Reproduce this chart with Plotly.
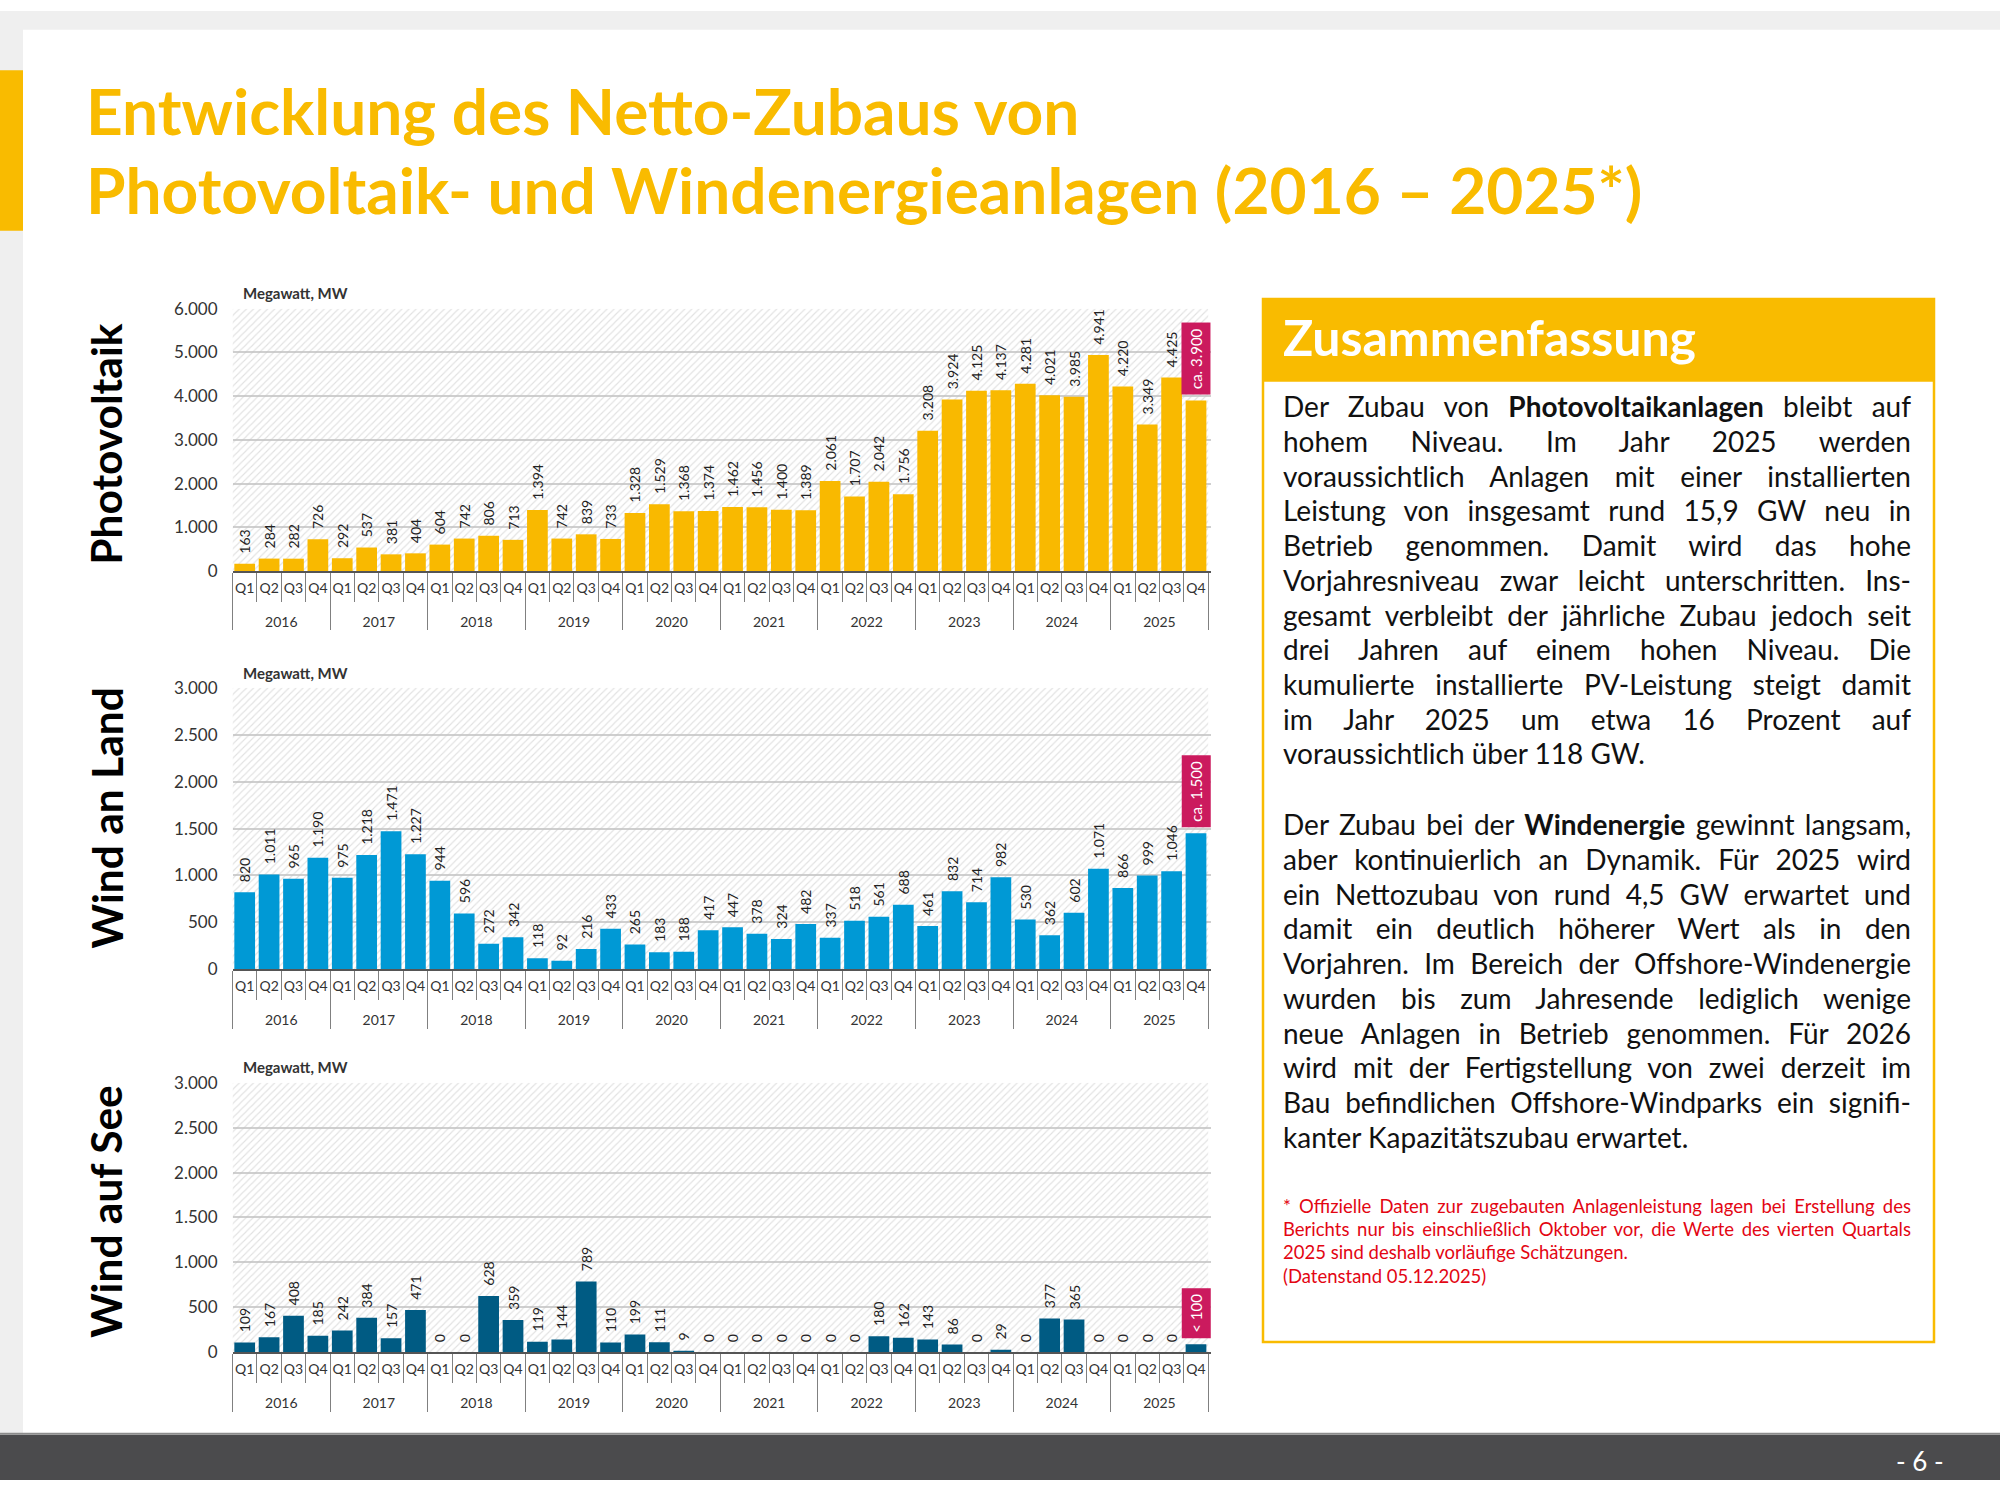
import json
import plotly.graph_objects as go

# ---------------- data ----------------
YEARS = ["2016", "2017", "2018", "2019", "2020", "2021", "2022", "2023", "2024", "2025"]
QUARTERS = ["Q1", "Q2", "Q3", "Q4"]

PV = [163, 284, 282, 726,
      292, 537, 381, 404,
      604, 742, 806, 713,
      1394, 742, 839, 733,
      1328, 1529, 1368, 1374,
      1462, 1456, 1400, 1389,
      2061, 1707, 2042, 1756,
      3208, 3924, 4125, 4137,
      4281, 4021, 3985, 4941,
      4220, 3349, 4425, 3900]

WIND_LAND = [820, 1011, 965, 1190,
             975, 1218, 1471, 1227,
             944, 596, 272, 342,
             118, 92, 216, 433,
             265, 183, 188, 417,
             447, 378, 324, 482,
             337, 518, 561, 688,
             461, 832, 714, 982,
             530, 362, 602, 1071,
             866, 999, 1046, 1450]

WIND_SEA = [109, 167, 408, 185,
            242, 384, 157, 471,
            0, 0, 628, 359,
            119, 144, 789, 110,
            199, 111, 9, 0,
            0, 0, 0, 0,
            0, 0, 180, 162,
            143, 86, 0, 29,
            0, 377, 365, 0,
            0, 0, 0, 90]

ESTIMATE_TEXT = ["ca. 3.900", "ca. 1.500", "&lt; 100"]
PANEL_NAMES = ["Photovoltaik", "Wind an Land", "Wind auf See"]
UNIT_LABEL = "Megawatt, MW"
Y_MAX = [6000, 3000, 3000]
Y_DTICK = [1000, 500, 500]

TITLE_LINES = ["Entwicklung des Netto-Zubaus von",
               "Photovoltaik- und Windenergieanlagen (2016 – 2025*)"]
BOX_TITLE = "Zusammenfassung"
PARA1 = ["Der Zubau von <b>Photovoltaikanlagen</b> bleibt auf",
         "hohem Niveau. Im Jahr 2025 werden",
         "voraussichtlich Anlagen mit einer installierten",
         "Leistung von insgesamt rund 15,9 GW neu in",
         "Betrieb genommen. Damit wird das hohe",
         "Vorjahresniveau zwar leicht unterschritten. Ins-",
         "gesamt verbleibt der jährliche Zubau jedoch seit",
         "drei Jahren auf einem hohen Niveau. Die",
         "kumulierte installierte PV-Leistung steigt damit",
         "im Jahr 2025 um etwa 16 Prozent auf",
         "voraussichtlich über 118 GW."]
PARA2 = ["Der Zubau bei der <b>Windenergie</b> gewinnt langsam,",
         "aber kontinuierlich an Dynamik. Für 2025 wird",
         "ein Nettozubau von rund 4,5 GW erwartet und",
         "damit ein deutlich höherer Wert als in den",
         "Vorjahren. Im Bereich der Offshore-Windenergie",
         "wurden bis zum Jahresende lediglich wenige",
         "neue Anlagen in Betrieb genommen. Für 2026",
         "wird mit der Fertigstellung von zwei derzeit im",
         "Bau befindlichen Offshore-Windparks ein signifi-",
         "kanter Kapazitätszubau erwartet."]
FOOTNOTE = ["* Offizielle Daten zur zugebauten Anlagenleistung lagen bei Erstellung des",
            "Berichts nur bis einschließlich Oktober vor, die Werte des vierten Quartals",
            "2025 sind deshalb vorläufige Schätzungen.",
            "(Datenstand 05.12.2025)"]
PAGE_NO = "- 6 -"

# ---------------- styling / layout helpers ----------------
W, H = 2000, 1490
FONT = "Lato, 'Open Sans', sans-serif"
YELLOW = "#F9BB00"
MAGENTA = "#CB1A5E"
GRID = "#cfcfcf"
TXT = "#222222"
TEXT_LEFT, TEXT_WIDTH = 1283, 628


def fx(px):
    return px / W


def fy(py):
    return 1 - py / H


def fmt(v):
    return f"{v:,}".replace(",", ".")


year_labels = ["<br>" + y for y in YEARS]
xcat = [[y for y in year_labels for _ in QUARTERS], [q for _ in YEARS for q in QUARTERS]]

panels = [
    dict(values=PV, color="#F9B900", top=302, bottom=568, title_y=440),
    dict(values=WIND_LAND, color="#0099D5", top=686.5, bottom=972, title_y=819),
    dict(values=WIND_SEA, color="#005B83", top=1087, bottom=1360.5, title_y=1218),
]
X_LEFT, X_RIGHT = 232.5, 1211

fig = go.Figure()
annotations = []
shapes = []
layout_axes = {}
justify_ids = []

for i, p in enumerate(panels):
    n = "" if i == 0 else str(i + 1)
    xa, ya = "x" + n, "y" + n
    vals = p["values"]
    # hatched background
    fig.add_trace(go.Bar(
        x=xcat, y=[Y_MAX[i]] * len(vals), width=1.0, xaxis=xa, yaxis=ya,
        marker=dict(color="rgba(0,0,0,0)", line=dict(width=0),
                    pattern=dict(shape="/", fgcolor="#c4c4c4", size=5, solidity=0.22,
                                 fillmode="overlay")),
        hoverinfo="skip", showlegend=False))
    texts = ["\u00a0\u00a0" + fmt(v) for v in vals[:-1]] + [""]
    fig.add_trace(go.Bar(
        x=xcat, y=vals, width=0.85, xaxis=xa, yaxis=ya,
        marker=dict(color=p["color"], line=dict(width=0)),
        text=texts, textposition="outside", textangle=-90,
        textfont=dict(family=FONT, size=14, color=TXT),
        constraintext="none", cliponaxis=False, showlegend=False))

    layout_axes["xaxis" + n] = dict(
        type="multicategory", domain=[fx(X_LEFT), fx(X_RIGHT)], anchor=ya,
        showline=True, linecolor="#555555", linewidth=1.5,
        ticks="outside", tickson="boundaries", ticklen=29, tickcolor="#808080", tickwidth=1,
        showdividers=True, dividercolor="#808080", dividerwidth=1,
        tickangle=0, ticklabelstandoff=3,
        tickfont=dict(family=FONT, size=14, color="#333333"),
        showgrid=False, fixedrange=True)
    layout_axes["yaxis" + n] = dict(
        domain=[fy(p["bottom"]), fy(p["top"])], anchor=xa,
        range=[0, Y_MAX[i]], dtick=Y_DTICK[i], tickformat=",d",
        showgrid=True, gridcolor=GRID, gridwidth=1.5, zeroline=False,
        showline=False, ticks="", ticklabelstandoff=14,
        tickfont=dict(family=FONT, size=17, color="#333333"))

    annotations.append(dict(
        text=UNIT_LABEL, x=fx(241), y=fy(p["top"] - 15.5), xref="paper", yref="paper",
        xanchor="left", yanchor="middle", showarrow=False,
        font=dict(family=FONT, size=15, color="#333333", weight="bold")))
    annotations.append(dict(
        text="<b>" + PANEL_NAMES[i] + "</b>", x=fx(106), y=fy(p["title_y"]),
        xref="paper", yref="paper", xanchor="center", yanchor="middle",
        textangle=-90, showarrow=False,
        font=dict(family=FONT, size=42.5, color="#000000")))
    annotations.append(dict(
        text=ESTIMATE_TEXT[i], x=len(vals) - 1, y=vals[-1], xref=xa, yref=ya,
        xanchor="center", yanchor="bottom", yshift=5, textangle=-90, showarrow=False,
        bgcolor=MAGENTA, borderpad=5,
        font=dict(family=FONT, size=15, color="white")))


def rect(x0, y0, x1, y1, fill, line=None, lw=0):
    shapes.append(dict(type="rect", xref="paper", yref="paper",
                       x0=fx(x0), x1=fx(x1), y0=fy(y1), y1=fy(y0),
                       fillcolor=fill, line=dict(color=line or fill, width=lw),
                       layer="below"))


rect(0, 0, W, 19, "#EFEFEF")
rect(0, 0, 23, 1444, "#EFEFEF")
rect(0, 60, 23, 223, YELLOW)
rect(0, 1444, W, H, "#4B4B4D")
rect(0, 1442, W, 1444, "#8C8C8C")
rect(1263, 292, 1934, 1350, "white", YELLOW, 2.5)
rect(1263, 292, 1934, 376, YELLOW)

for k, line in enumerate(TITLE_LINES):
    annotations.append(dict(
        text="<b>" + line + "</b>", x=fx(84), y=fy(101 + k * 80), xref="paper", yref="paper",
        xanchor="left", yanchor="middle", showarrow=False,
        font=dict(family=FONT, size=64, color=YELLOW)))

annotations.append(dict(
    text="<b>" + BOX_TITLE + "</b>", x=fx(1281), y=fy(331), xref="paper", yref="paper",
    xanchor="left", yanchor="middle", showarrow=False,
    font=dict(family=FONT, size=50, color="white")))


def add_lines(lines, y0, step, size, color, n_justify):
    for k, line in enumerate(lines):
        if k < n_justify:
            justify_ids.append(len(annotations))
        annotations.append(dict(
            text=line, x=fx(TEXT_LEFT - 2), y=fy(y0 + k * step), xref="paper", yref="paper",
            xanchor="left", yanchor="middle", align="left", showarrow=False,
            font=dict(family=FONT, size=size, color=color)))


add_lines(PARA1, 401, 35.2, 28, "#111111", len(PARA1) - 1)
add_lines(PARA2, 825, 35.2, 28, "#111111", len(PARA2) - 1)
add_lines(FOOTNOTE, 1212, 23.6, 18.5, "#E30613", 2)

annotations.append(dict(
    text=PAGE_NO, x=fx(1920), y=fy(1471), xref="paper", yref="paper",
    xanchor="center", yanchor="middle", showarrow=False,
    font=dict(family=FONT, size=26, color="white")))

fig.update_layout(
    width=W, height=H, margin=dict(l=0, r=0, t=0, b=0),
    paper_bgcolor="white", plot_bgcolor="rgba(0,0,0,0)",
    barmode="overlay", separators=",.", showlegend=False,
    font=dict(family=FONT, color="#333333"),
    annotations=annotations, shapes=shapes, **layout_axes)

POST = """
document.documentElement.style.margin = '0';
document.documentElement.style.overflow = 'hidden';
document.body.style.margin = '0';
document.body.style.overflow = 'hidden';
window.scrollTo(0, 0);
(function () {
  var gd = document.getElementById('{plot_id}');
  var ids = %s, target = %d;
  function justify() {
    ids.forEach(function (k) {
      var t = gd.querySelector('g.annotation[data-index="' + k + '"] text.annotation-text');
      if (!t) return;
      var n = (t.textContent.match(/ /g) || []).length;
      if (!n) return;
      t.style.wordSpacing = '0px';
      var x0 = t.getBBox().x;
      var w = t.getComputedTextLength();
      t.style.wordSpacing = ((target - w) / n) + 'px';
      var x1 = t.getBBox().x;
      if (Math.abs(x1 - x0) > 0.5) {
        var tr = t.getAttribute('transform') || '';
        t.setAttribute('transform', tr + ' translate(' + (x0 - x1) + ',0)');
      }
    });
    window.scrollTo(0, 0);
  }
  justify();
  setTimeout(justify, 200);
})();
""" % (json.dumps(justify_ids), TEXT_WIDTH)

fig.write_html("out.html", post_script=POST, config={"displayModeBar": False})
